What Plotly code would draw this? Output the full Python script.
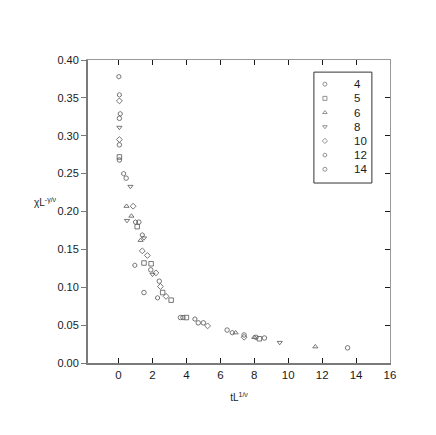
import plotly.graph_objects as go

# data collapse: chi L^(-gamma/nu) vs t L^(1/nu), one series per system size L
SIZES = ["4", "5", "6", "8", "10", "12", "14"]
SYMBOLS = ["circle-open", "square-open", "triangle-up-open", "triangle-down-open",
           "diamond-open", "hexagon-open", "circle-open"]

L4_X = [0.05, 1.5, 3.65, 4.7, 6.4, 8.6]
L4_Y = [0.288, 0.093, 0.060, 0.053, 0.0435, 0.033]

L5_X = [0.05, 1.1, 1.5, 1.92, 2.6, 3.1, 4.0, 8.3]
L5_Y = [0.272, 0.180, 0.132, 0.131, 0.093, 0.083, 0.060, 0.032]

L6_X = [0.47, 0.76, 1.3, 6.9, 8.0, 11.6]
L6_Y = [0.207, 0.194, 0.162, 0.040, 0.034, 0.0215]

L8_X = [0.05, 0.7, 0.5, 1.5, 2.0, 9.5]
L8_Y = [0.311, 0.233, 0.188, 0.165, 0.117, 0.027]

L10_X = [0.05, 0.05, 0.86, 1.4, 1.7, 2.2, 2.47, 2.8, 5.25, 7.4]
L10_Y = [0.346, 0.295, 0.207, 0.148, 0.142, 0.119, 0.101, 0.088, 0.049, 0.034]

L12_X = [0.02, 0.05, 0.1, 0.3, 1.0, 1.4, 0.96, 2.3, 4.5, 6.7]
L12_Y = [0.378, 0.354, 0.329, 0.250, 0.186, 0.169, 0.129, 0.086, 0.058, 0.040]

L14_X = [0.05, 0.05, 0.45, 1.2, 1.9, 2.4, 3.8, 5.0, 7.4, 8.1, 13.5]
L14_Y = [0.323, 0.268, 0.244, 0.186, 0.123, 0.108, 0.060, 0.053, 0.037, 0.034, 0.020]

SERIES_X = [L4_X, L5_X, L6_X, L8_X, L10_X, L12_X, L14_X]
SERIES_Y = [L4_Y, L5_Y, L6_Y, L8_Y, L10_Y, L12_Y, L14_Y]

X_TICKS = list(range(0, 17, 2))
Y_TICKS = [0.00, 0.05, 0.10, 0.15, 0.20, 0.25, 0.30, 0.35, 0.40]

FONT = "Liberation Sans, Arial, sans-serif"
INK = "#1a1a1a"
AXIS_GREY = "#7a7a7a"
MARK = "#555555"

# legend box (paper coords) - plotly's own legend rows are too tall here
LEG_X0, LEG_X1 = 0.748, 0.940
LEG_Y0, LEG_Y1 = 0.594, 0.960

fig = go.Figure()
for name, sym, xs, ys in zip(SIZES, SYMBOLS, SERIES_X, SERIES_Y):
    fig.add_trace(go.Scatter(
        x=xs, y=ys, mode="markers", name=name, showlegend=False,
        marker=dict(symbol=sym, size=4.5, color=MARK,
                    line=dict(width=0.8, color=MARK)),
    ))

# invisible trace on the mirror axes so the top/right frame gets drawn
fig.add_trace(go.Scatter(x=[None], y=[None], xaxis="x2", yaxis="y2",
                         showlegend=False, hoverinfo="skip"))

# hand-made legend on its own small axes: one row per size
rows = list(range(len(SIZES)))
for i, (name, sym) in enumerate(zip(SIZES, SYMBOLS)):
    fig.add_trace(go.Scatter(
        x=[0.19], y=[rows[i]], xaxis="x3", yaxis="y3", mode="markers",
        showlegend=False, hoverinfo="skip",
        marker=dict(symbol=sym, size=4, color="#777777",
                    line=dict(width=0.8, color="#777777")),
    ))
    fig.add_annotation(text=name, x=0.66, y=rows[i], xref="x3", yref="y3",
                       xanchor="left", showarrow=False,
                       font=dict(size=11.5, color=INK))

fig.add_shape(type="rect", xref="paper", yref="paper",
              x0=LEG_X0, x1=LEG_X1, y0=LEG_Y0, y1=LEG_Y1,
              line=dict(color="#333333", width=1), fillcolor="rgba(0,0,0,0)")

fig.update_layout(
    width=436, height=435,
    margin=dict(l=80, r=54, t=52, b=80),
    paper_bgcolor="white", plot_bgcolor="white",
    font=dict(family=FONT, size=11, color=INK),
    showlegend=False,
    xaxis=dict(range=[-1.8, 16], tickvals=X_TICKS, ticks="inside",
               ticklen=5, tickcolor=INK, showgrid=False, zeroline=False,
               showline=True, linecolor=AXIS_GREY, linewidth=2,
               tickfont=dict(size=11.5, color=INK),
               title=dict(text="tL<sup>1/ν</sup>", font=dict(size=10),
                          standoff=14)),
    yaxis=dict(range=[0, 0.40], tickvals=Y_TICKS, tickformat=".2f",
               ticks="outside", ticklen=5, tickcolor=AXIS_GREY,
               showgrid=False, zeroline=False, showline=True,
               linecolor=AXIS_GREY, linewidth=2,
               tickfont=dict(size=11, color=INK)),
    xaxis2=dict(range=[-1.8, 16], tickvals=X_TICKS, overlaying="x",
                side="top", ticks="inside", ticklen=5, tickcolor=INK,
                showticklabels=False, showgrid=False, zeroline=False,
                showline=True, linecolor="#999999", linewidth=1),
    yaxis2=dict(range=[0, 0.40], tickvals=Y_TICKS, overlaying="y",
                side="right", ticks="inside", ticklen=5, tickcolor=INK,
                showticklabels=False, showgrid=False, zeroline=False,
                showline=True, linecolor="#999999", linewidth=1),
    xaxis3=dict(domain=[LEG_X0, LEG_X1], range=[0, 1], visible=False,
                anchor="y3"),
    yaxis3=dict(domain=[LEG_Y0, LEG_Y1], range=[6.97, -0.85], visible=False,
                anchor="x3"),
)

fig.add_annotation(text="χL<sup>-γ/ν</sup>", xref="paper", yref="paper",
                   x=-0.096, y=0.531, showarrow=False, xanchor="right",
                   font=dict(size=10, color=INK))

fig.write_html("out.html")
